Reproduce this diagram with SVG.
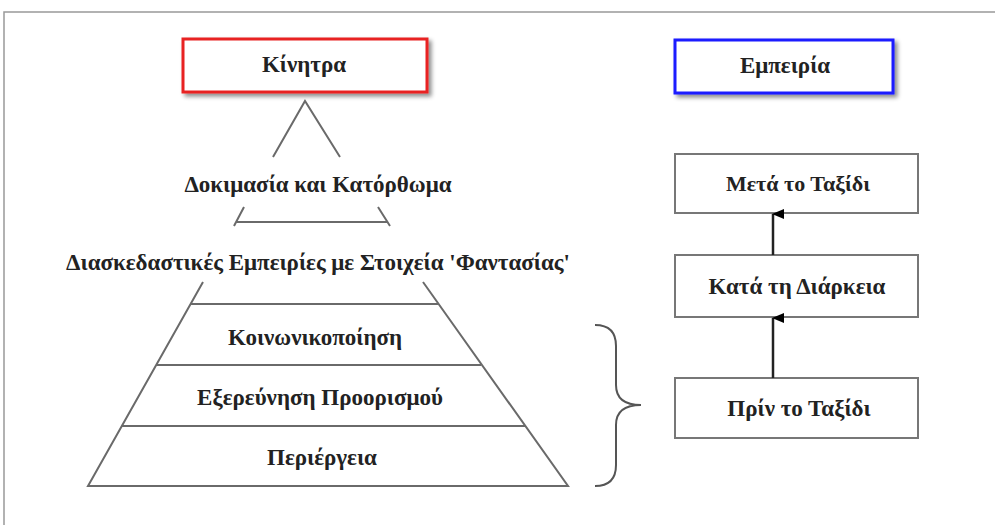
<svg xmlns="http://www.w3.org/2000/svg" width="995" height="525" viewBox="0 0 995 525">
<defs>
<style>
text{font-family:"Liberation Serif","Times New Roman",serif;font-weight:bold;font-size:23px;fill:#222;text-anchor:middle}
.ln{stroke:#6a6a6a;stroke-width:2;fill:none}
.box{fill:#fff;stroke:#777;stroke-width:2}
</style>
<filter id="sh" x="-10%" y="-20%" width="130%" height="160%">
<feDropShadow dx="3" dy="3" stdDeviation="2" flood-color="#000" flood-opacity="0.45"/>
</filter>
<marker id="ah" viewBox="0 0 10 12" refX="5" refY="1" markerWidth="10" markerHeight="12" markerUnits="userSpaceOnUse" orient="auto-start-reverse">
<path d="M0,12 L5,0 L10,12 Z" fill="#000"/>
</marker>
</defs>
<rect x="0" y="0" width="995" height="525" fill="#fff"/>
<path d="M4,525 V12 H995" fill="none" stroke="#999" stroke-width="1.5"/>

<g id="kinitra">
<rect x="183" y="39" width="244" height="53" fill="#fff" stroke="#e82020" stroke-width="3" filter="url(#sh)"/>
<text x="304" y="72">Κίνητρα</text>
</g>

<g id="pyramid">
<path class="ln" d="M273,157 L305,101 L340,157"/>
<path class="ln" d="M244,207 L234,226 M378,207 L390,226 M236,222 H388"/>
<path class="ln" d="M203,282 L88,486 H568 L423,282"/>
<path class="ln" d="M191,304 H438 M156,365 H481 M122,426 H525"/>
</g>
<g id="t-dokimasia"><text x="318" y="192">Δοκιμασία και Κατόρθωμα</text></g>
<g id="t-diaskedastikes"><text x="318" y="270">Διασκεδαστικές Εμπειρίες με Στοιχεία 'Φαντασίας'</text></g>
<g id="t-koinonikopoiisi"><text x="315" y="345">Κοινωνικοποίηση</text></g>
<g id="t-exerevnisi"><text x="320" y="405">Εξερεύνηση Προορισμού</text></g>
<g id="t-periergeia"><text x="322" y="465">Περιέργεια</text></g>

<g id="brace">
<path d="M595,325 Q616,325 616,346 V385 Q616,405 641,405 Q616,405 616,425 V465 Q616,486 595,486" fill="none" stroke="#555" stroke-width="2"/>
</g>

<g id="empeiria">
<rect x="675" y="40" width="218" height="53" fill="#fff" stroke="#1a1aff" stroke-width="3" filter="url(#sh)"/>
<text x="785" y="73">Εμπειρία</text>
</g>
<g id="meta">
<rect class="box" x="675" y="154" width="243" height="59"/>
<text x="798" y="191" style="font-size:22px">Μετά το Ταξίδι</text>
</g>
<g id="kata">
<rect class="box" x="675" y="255" width="243" height="62"/>
<text x="797" y="294">Κατά τη Διάρκεια</text>
</g>
<g id="prin">
<rect class="box" x="675" y="378" width="243" height="60"/>
<text x="799" y="416">Πρίν το Ταξίδι</text>
</g>

<g id="connectors">
<line x1="773" y1="255" x2="773" y2="214" stroke="#222" stroke-width="2.5" marker-end="url(#ah)"/>
<line x1="773" y1="378" x2="773" y2="318" stroke="#222" stroke-width="2.5" marker-end="url(#ah)"/>
</g>
</svg>
